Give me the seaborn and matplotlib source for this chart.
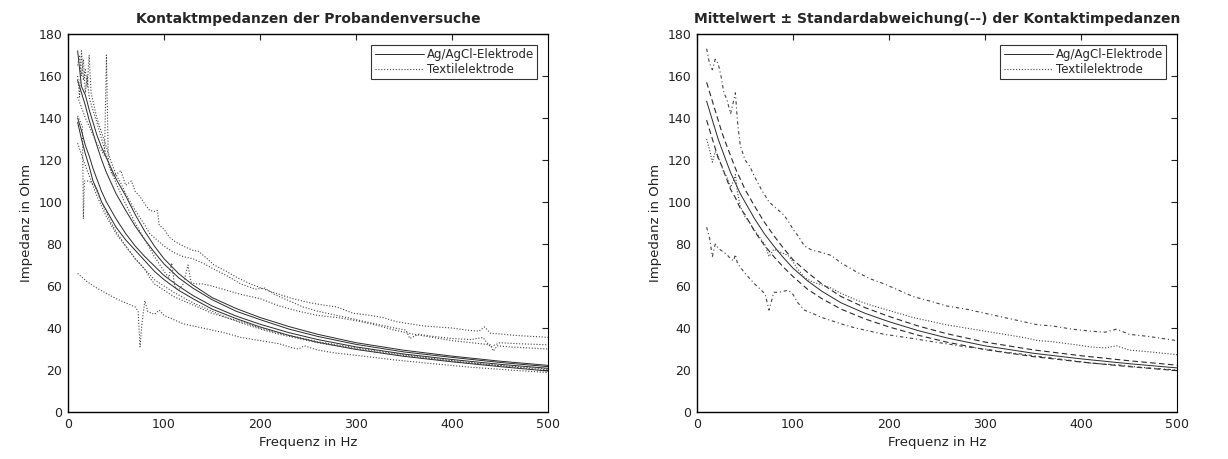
import numpy as np
import pandas as pd
import matplotlib
matplotlib.use("Agg")
import matplotlib.pyplot as plt
import seaborn as sns
from matplotlib.lines import Line2D

# ---------------- data: left panel (individual measurements) ----------------
F_AG = [10, 14, 18, 22, 26, 30, 35, 40, 45, 50, 60, 70, 80, 90, 100, 115, 130,
        150, 175, 200, 230, 260, 300, 350, 400, 450, 500]

AG_1 = [172, 155, 151, 144, 138, 132, 126, 121, 116, 111, 103, 94, 86, 79, 73, 66,
        60.5, 54.5, 49.3, 45, 40.7, 37, 33, 29.4, 26.6, 24.2, 22.2]
AG_2 = [158, 152, 146, 139, 133, 127, 120, 114, 109, 104, 96, 88.5, 82, 76, 70.5,
        64, 59, 53.5, 48, 44, 39.5, 36, 32.2, 28.6, 26, 23.6, 21.6]
AG_3 = [140, 134, 127, 122, 116, 111, 105, 100, 96, 92, 85, 79, 74, 69.5, 65, 60,
        55.5, 50.5, 45.7, 41.8, 37.8, 34.5, 31, 27.6, 25, 22.7, 20.8]
AG_4 = [138, 130, 123, 117, 110, 106, 100, 96, 92, 88, 82, 77, 72, 67, 63, 58, 54,
        49, 44.5, 40.5, 36.5, 33.2, 29.8, 26.5, 23.9, 21.6, 19.5]

T1_F = [10, 14, 18, 22, 26, 30, 34, 38, 40, 42, 46, 50, 55, 60, 66, 70, 75, 80, 85,
        90, 93, 95, 100, 106, 112, 120, 130, 136, 145, 152, 165, 176, 190, 207, 220,
        234, 252, 265, 280, 297, 315, 328, 342, 356, 370, 384, 400, 415, 428, 434,
        440, 450, 460, 475, 495, 500]
T1_Z = [150, 145, 140, 136, 132, 128, 125, 122, 170, 118, 113, 113, 115, 108, 110,
        105, 102.5, 99, 96, 95.5, 96, 89, 87, 83, 81, 79, 77, 76.5, 73, 70, 67, 64,
        61, 58, 56, 54, 52, 51, 50, 47, 46, 45, 43, 42, 41, 40.5, 40, 39, 38.5, 40.5,
        37.5, 37.2, 36.7, 36.2, 35.7, 35.5]

T2_F = [10, 12, 14, 16, 18, 20, 22, 24, 27, 30, 35, 40, 45, 50, 55, 60, 65, 70, 80,
        85, 90, 100, 110, 120, 130, 140, 150, 165, 180, 195, 205, 215, 230, 245, 260,
        280, 300, 320, 340, 352, 356, 365, 380, 400, 420, 432, 440, 450, 470, 500]
T2_Z = [160, 150, 172, 158, 163, 155, 170, 152, 146, 140, 133, 126, 119, 113, 109,
        104, 100, 96, 89, 85, 83, 79, 76, 74, 73, 71, 68.5, 65, 61, 58.5, 59, 56, 53,
        50, 48, 46, 44, 42, 40, 39, 35, 37, 36, 35, 34.5, 35.5, 31, 33, 32.5, 32]

T3_F = [10, 12, 14, 16, 18, 20, 22, 25, 30, 35, 40, 45, 50, 60, 70, 80, 90, 100, 105,
        108, 111, 115, 120, 125, 128, 132, 140, 150, 165, 180, 200, 220, 240, 260,
        280, 300, 320, 340, 360, 380, 400, 420, 440, 443, 447, 460, 480, 500]
T3_Z = [165, 170, 160, 168, 152, 160, 150, 145, 138, 130, 122, 115, 109, 99, 90, 82,
        74, 67, 64, 71, 60, 58, 61, 70, 62, 61, 61, 60, 58, 56, 54, 50.5, 48, 46, 45,
        43.5, 41.5, 39, 37, 35.5, 34, 33, 32, 29, 31.5, 31, 30.5, 30]

T4_F = [10, 13, 15, 16, 17, 19, 22, 28, 35, 40, 45, 50, 60, 70, 80, 90, 100, 110,
        120, 130, 140, 150, 165, 180, 200, 220, 240, 260, 280, 300, 320, 340, 360,
        380, 400, 420, 440, 460, 480, 500]
T4_Z = [141, 138, 136, 92, 110, 110, 110, 107.5, 100, 95, 90, 86, 79, 73, 68, 63,
        60, 57, 54.5, 52, 50, 48, 45, 42.5, 39.5, 37, 35, 33, 31.5, 30, 28.7, 27.5,
        26.3, 25.2, 24.2, 23.3, 22.5, 21.8, 21.2, 20.5]

T5_F = [10, 13, 16, 20, 25, 30, 35, 40, 45, 50, 55, 60, 65, 70, 75, 80, 85, 90, 100,
        110, 120, 130, 140, 150, 165, 180, 200, 220, 240, 260, 280, 300, 340, 380,
        420, 460, 500]
T5_Z = [128, 124, 120, 115, 109, 103, 98, 93, 89, 85, 82, 79, 76, 73, 70.5, 68, 64,
        61, 58, 55, 53, 51, 49, 47, 45, 43, 40, 37.5, 35.5, 33.5, 32, 30.5, 28, 25.5,
        23.5, 21.5, 20]

T6_F = [10, 20, 30, 40, 50, 60, 70, 73, 75, 77, 80, 83, 87, 90, 95, 100, 110, 120,
        130, 140, 150, 165, 180, 200, 220, 234, 240, 246, 260, 280, 300, 340, 380,
        420, 460, 500]
T6_Z = [66, 62, 59, 56.5, 54, 52, 50, 48, 31, 42, 53, 48, 47, 46.5, 48.5, 46, 44, 42,
        41, 40, 39, 37.5, 35.5, 34, 32.5, 30.5, 30, 31.5, 29.5, 28, 27, 24.8, 23,
        21.3, 20, 18.8]

# ---------------- data: right panel (mean +/- std) ----------------
AG_MEAN = [148, 142, 136, 130, 125, 120, 114, 109, 104, 100, 92, 85, 79, 73.5, 68.5,
           62.5, 57.5, 52, 47, 43, 38.8, 35.3, 31.5, 28, 25.3, 23, 21]
AG_UPPER = [157, 151, 145, 139, 133, 128, 122, 116, 111, 106, 98, 90.5, 84, 78, 72.5,
            66.5, 61, 55, 49.7, 45.5, 41, 37.3, 33.3, 29.6, 26.8, 24.4, 22.3]
AG_LOWER = [139, 133, 127, 121, 117, 112, 106, 102, 97, 94, 86, 79.5, 74, 69, 64.5,
            58.5, 54, 49, 44.3, 40.5, 36.6, 33.3, 29.7, 26.4, 23.8, 21.6, 19.7]

F_TEX = [10, 13, 16, 19, 22, 25, 28, 31, 35, 38, 40, 42, 45, 50, 55, 60, 67, 71, 75,
         80, 85, 90, 95, 100, 105, 112, 120, 130, 140, 150, 165, 180, 195, 210, 225,
         245, 260, 280, 300, 320, 340, 355, 370, 390, 410, 425, 437, 450, 470, 485, 500]
TEX_UPPER = [173, 166, 163, 168, 166, 160, 152, 149, 142, 148, 152, 139, 127, 120,
             117, 112, 106, 103, 100, 98, 96, 94, 91, 87, 84, 79, 77, 76, 74.5, 71, 67,
             63.5, 61, 58, 55, 52.5, 50.5, 49, 47, 45, 43, 41.5, 41, 39.5, 38.5, 38,
             39.5, 37, 36, 35, 34]
TEX_MEAN = [130, 125, 119, 124, 122, 118, 114, 112, 107, 110, 113, 105, 98, 93, 90,
            86.5, 82, 79.5, 74, 77.5, 76.5, 75.5, 74.5, 71.5, 68, 64, 62, 60.5, 59,
            56.5, 53.5, 51, 49, 47, 45, 43, 41.5, 40, 38.5, 37, 35.5, 34, 33.5, 32.3,
            31, 30.5, 31.5, 29.5, 28.7, 28, 27.3]
TEX_LOWER = [88, 83, 74, 80, 78, 77, 76, 75, 73, 72, 75, 71, 69, 66, 63.5, 61, 58, 56,
             48.5, 57, 57, 57.5, 58, 56, 52, 48.5, 47, 45, 43.5, 42, 40, 38.5, 37, 36,
             35, 33.5, 32.5, 31, 30, 28.5, 27.5, 26.5, 25.7, 24.5, 23.3, 22.8, 22.5,
             21.8, 21, 20.5, 20]

X_TICKS = [0, 100, 200, 300, 400, 500]
Y_TICKS = [0, 20, 40, 60, 80, 100, 120, 140, 160, 180]

TITLE_L = "Kontaktmpedanzen der Probandenversuche"
TITLE_R = "Mittelwert \u00b1 Standardabweichung(--) der Kontaktimpedanzen"
XLABEL = "Frequenz in Hz"
YLABEL = "Impedanz in Ohm"
LEG = ["Ag/AgCl-Elektrode", "Textilelektrode"]

# ---------------- style ----------------
sns.set_style("white")
plt.rcParams["font.family"] = ["DejaVu Sans"]
plt.rcParams["xtick.direction"] = "in"
plt.rcParams["ytick.direction"] = "in"

fig = plt.figure(figsize=(12.28, 4.59), dpi=100)
axL = fig.add_axes([0.0554, 0.1024, 0.3909, 0.8235])
axR = fig.add_axes([0.5676, 0.1024, 0.3909, 0.8235])

SOLID = dict(color="#2a2a2a", linewidth=0.7, linestyle="-")
DOT = dict(color="#444444", linewidth=0.8, linestyle=(0, (1, 1.6)))


def line(ax, x, y, **kw):
    sns.lineplot(x=x, y=y, ax=ax, estimator=None, sort=False, legend=False, **kw)


# left panel
for z in [AG_1, AG_2, AG_3, AG_4]:
    line(axL, F_AG, z, **SOLID)
for f, z in [(T1_F, T1_Z), (T2_F, T2_Z), (T3_F, T3_Z), (T4_F, T4_Z),
             (T5_F, T5_Z), (T6_F, T6_Z)]:
    line(axL, f, z, **DOT)

# right panel
line(axR, F_AG, AG_MEAN, **SOLID)
for z in [AG_UPPER, AG_LOWER]:
    line(axR, F_AG, z, color="#2a2a2a", linewidth=0.8, linestyle=(0, (5, 3)))
line(axR, F_TEX, TEX_MEAN, **DOT)
for z in [TEX_UPPER, TEX_LOWER]:
    line(axR, F_TEX, z, color="#444444", linewidth=0.8,
         linestyle=(0, (3, 2.5, 1, 2.5)))

for ax, title in [(axL, TITLE_L), (axR, TITLE_R)]:
    ax.set_xlim(0, 500)
    ax.set_ylim(0, 180)
    ax.set_xticks(X_TICKS)
    ax.set_yticks(Y_TICKS)
    ax.tick_params(axis="both", which="both", top=True, right=True, length=4,
                   width=0.8, labelsize=9, colors="#222222", pad=4)
    for s in ["left", "bottom", "top"]:
        ax.spines[s].set_color("black")
        ax.spines[s].set_linewidth(1.0)
    ax.spines["right"].set_color("black")
    ax.spines["right"].set_linewidth(0.8)
    ax.spines["right"].set_linestyle((0, (1, 1)))
    ax.set_xlabel(XLABEL, fontsize=9.5, color="#222222", labelpad=4)
    ax.set_ylabel(YLABEL, fontsize=9.5, color="#222222", labelpad=4)
    ax.set_title(title, fontsize=10, fontweight="bold", pad=8)
    handles = [Line2D([], [], **SOLID), Line2D([], [], **DOT)]
    leg = ax.legend(handles, LEG, loc="upper right", fontsize=8.5, frameon=True,
                    fancybox=False, borderpad=0.3, handlelength=4.2,
                    handletextpad=0.2, labelspacing=0.15, borderaxespad=0.9)
    leg.get_frame().set_edgecolor("black")
    leg.get_frame().set_linewidth(0.8)

fig.savefig("out.png", dpi=100, facecolor="white")
